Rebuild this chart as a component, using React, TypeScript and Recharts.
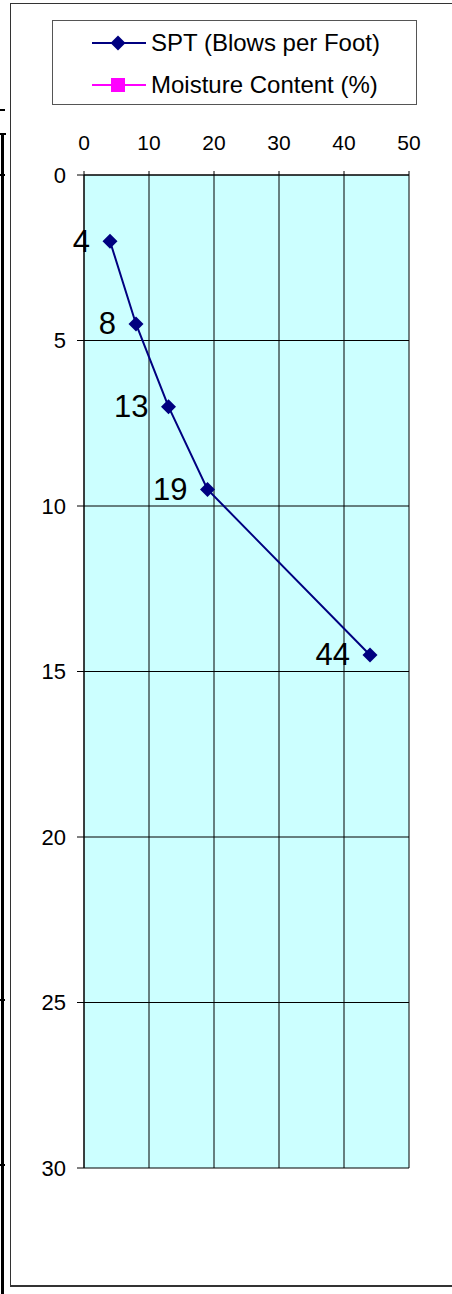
import React from "react";
import {
  ScatterChart,
  Scatter,
  XAxis,
  YAxis,
  CartesianGrid,
} from "recharts";

// SPT blow counts by depth (ft)
const DEPTH = [2, 4.5, 7, 9.5, 14.5];
const SPT = [4, 8, 13, 19, 44];

const X_TICKS = [0, 10, 20, 30, 40, 50];
const Y_TICKS = [0, 5, 10, 15, 20, 25, 30];

const SPT_NAME = "SPT (Blows per Foot)";
const MOISTURE_NAME = "Moisture Content (%)";

const NAVY = "#000080";
const MAGENTA = "#FF00FF";
const FONT = '"Liberation Sans", Arial, sans-serif';

const W = 452;
const H = 1294;

const data = SPT.map((v, i) => ({ spt: v, depth: DEPTH[i] }));

// diamond marker with the blow count written to its left
function SptPoint(props: any) {
  const { cx, cy, payload } = props;
  if (cx == null || cy == null) return null;
  const r = 7.5;
  return (
    <g>
      <polygon
        points={`${cx},${cy - r} ${cx + r},${cy} ${cx},${cy + r} ${cx - r},${cy}`}
        fill={NAVY}
      />
      <text
        x={cx - 20}
        y={cy}
        textAnchor="end"
        dominantBaseline="central"
        fontSize={31}
        fontFamily={FONT}
        fill="#000"
      >
        {payload.spt}
      </text>
    </g>
  );
}

function LegendBox() {
  const row = (name: string, color: string, square: boolean) => (
    <div style={{ display: "flex", alignItems: "center", height: 42 }}>
      <svg width={56} height={20} style={{ marginLeft: 38 }}>
        <line x1={1} y1={10} x2={55} y2={10} stroke={color} strokeWidth={2} />
        {square ? (
          <rect x={20} y={3} width={14} height={14} fill={color} />
        ) : (
          <polygon points="27,2.5 34.5,10 27,17.5 19.5,10" fill={color} />
        )}
      </svg>
      <span style={{ marginLeft: 4, fontSize: 24, color: "#000" }}>{name}</span>
    </div>
  );
  return (
    <div
      style={{
        position: "absolute",
        left: 52,
        top: 20,
        width: 365,
        height: 85,
        border: "1px solid #555",
        fontFamily: FONT,
        boxSizing: "border-box",
        paddingTop: 1,
      }}
    >
      {row(SPT_NAME, NAVY, false)}
      {row(MOISTURE_NAME, MAGENTA, true)}
    </div>
  );
}

export default function App() {
  return (
    <div
      style={{
        position: "absolute",
        left: 0,
        top: 0,
        width: W,
        height: H,
        background: "#fff",
        overflow: "hidden",
        fontFamily: FONT,
      }}
    >
      {/* outer chart frame, right side runs past the edge */}
      <div
        style={{
          position: "absolute",
          left: 10,
          top: 3,
          width: 460,
          height: 1284,
          borderTop: "1px solid #333",
          borderLeft: "1px solid #333",
          borderBottom: "2px solid #333",
          boxSizing: "border-box",
        }}
      />
      {/* edge of the neighbouring log column */}
      <div style={{ position: "absolute", left: 1, top: 133, width: 3, height: H - 133, background: "#000" }} />
      <div style={{ position: "absolute", left: 0, top: 109, width: 5, height: 2, background: "#000" }} />
      <div style={{ position: "absolute", left: 0, top: 133, width: 6, height: 2, background: "#000" }} />
      <div style={{ position: "absolute", left: 0, top: 174, width: 5, height: 2, background: "#000" }} />
      <div style={{ position: "absolute", left: 0, top: 999, width: 5, height: 2, background: "#000" }} />
      <div style={{ position: "absolute", left: 0, top: 1164, width: 5, height: 2, background: "#000" }} />

      <LegendBox />

      <div style={{ position: "absolute", left: 0, top: 0 }}>
        <ScatterChart
          width={W}
          height={H}
          margin={{ top: 135, right: 43, bottom: 126, left: 24 }}
        >
          <CartesianGrid
            stroke="#000"
            strokeWidth={1}
            fill="#CCFFFF"
            fillOpacity={1}
          />
          <XAxis
            type="number"
            dataKey="spt"
            orientation="top"
            domain={[0, 50]}
            ticks={X_TICKS}
            interval={0}
            height={40}
            tickSize={4}
            tickMargin={21}
            axisLine={{ stroke: "#000" }}
            tickLine={{ stroke: "#000" }}
            tick={{ fill: "#000", fontSize: 21, fontFamily: FONT }}
          />
          <YAxis
            type="number"
            dataKey="depth"
            reversed
            domain={[0, 30]}
            ticks={Y_TICKS}
            interval={0}
            width={60}
            tickSize={7}
            tickMargin={11}
            axisLine={{ stroke: "#000" }}
            tickLine={{ stroke: "#000" }}
            tick={{ fill: "#000", fontSize: 22, fontFamily: FONT }}
          />
          <Scatter
            name={SPT_NAME}
            data={data}
            line={{ stroke: NAVY, strokeWidth: 2 }}
            lineType="joint"
            shape={<SptPoint />}
            isAnimationActive={false}
          />
        </ScatterChart>
      </div>
    </div>
  );
}
